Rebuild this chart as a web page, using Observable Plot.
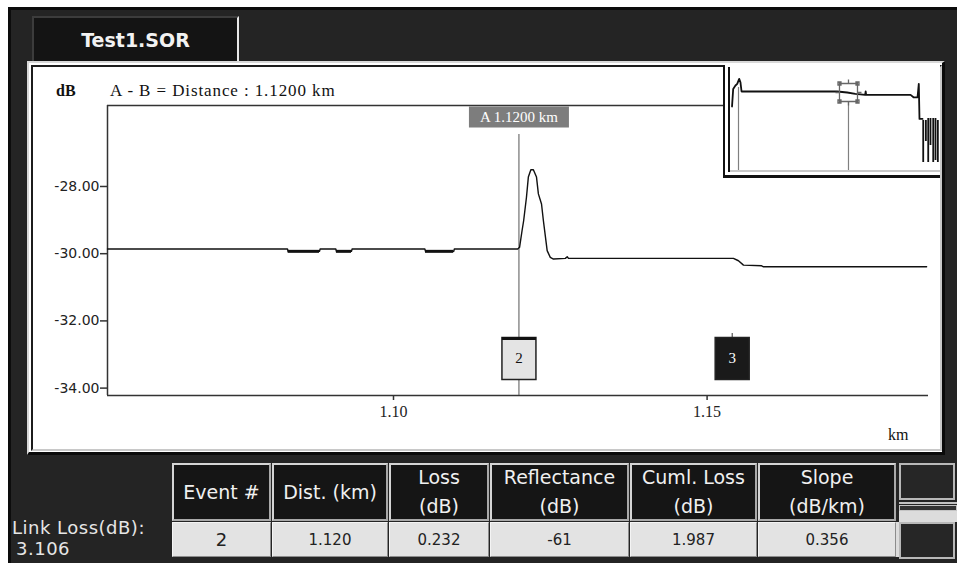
<!DOCTYPE html>
<html><head><meta charset="utf-8">
<script src="https://cdn.jsdelivr.net/npm/d3@7"></script>
<script src="https://cdn.jsdelivr.net/npm/@observablehq/plot@0.6"></script>
<style>
html,body{margin:0;padding:0}
body{width:957px;height:563px;overflow:hidden;background:#fff;position:relative;font-family:"DejaVu Sans",sans-serif}
.abs{position:absolute;box-sizing:border-box}
.hdr{background:#151515;border:2px solid #a9a9a9;border-top-color:#d4d4d4;border-left-color:#d4d4d4;color:#f0f0f0;font-size:19px;display:flex;flex-direction:column;justify-content:center;align-items:center;line-height:29px}
.val{background:#e3e3e3;border:1px solid #8c8c8c;border-top-color:#f4f4f4;border-left-color:#f4f4f4;color:#222;font-size:15px;display:flex;justify-content:center;align-items:center}
.btn{background:#262626;border:2px solid #b8b8b8}
</style></head><body>
<script>
// ---------- data ----------
const fileName = "Test1.SOR";
const cursorA = 1.12;
const cursorB = 0;
const xTicks = [1.10, 1.15];
const yTicks = [-28, -30, -32, -34];
const xDomain = [1.0544, 1.1853];
const yDomain = [-34.22, -25.59];

const traceKm = [1.0544, 1.0831, 1.0832, 1.0882, 1.0883, 1.0908, 1.0909, 1.0933, 1.0934, 1.1050, 1.1051, 1.1096, 1.1097,
  1.1198, 1.1201, 1.1205, 1.12075, 1.1212, 1.1215, 1.1219, 1.1223, 1.1228, 1.1231, 1.1236, 1.1239, 1.1245, 1.1250, 1.1255,
  1.1274, 1.1277, 1.1279, 1.1542, 1.1550, 1.1558, 1.1587, 1.1590, 1.1850];
const traceDb = [-29.86, -29.86, -29.93, -29.93, -29.86, -29.86, -29.93, -29.93, -29.86, -29.86, -29.93, -29.93, -29.86,
  -29.86, -29.81, -29.31, -29.02, -28.32, -27.72, -27.50, -27.50, -27.72, -28.22, -28.52, -29.02, -29.91, -30.11, -30.16,
  -30.14, -30.09, -30.14, -30.14, -30.21, -30.34, -30.36, -30.39, -30.39];
const dipStart = [1.0832, 1.0909, 1.1051];
const dipEnd = [1.0882, 1.0933, 1.1096];
const dipDb = [-29.93, -29.93, -29.93];

const eventNo = [2, 3];
const eventKm = [1.120, 1.154];
const selectedEvent = 2;

// overview (inset) trace
const overviewKm = [-0.066, -0.054, -0.031, -0.013, 0.007, 0.020, 0.031, 1.005, 1.107, 1.19, 1.29, 1.295, 1.30, 1.752, 1.782, 1.823, 1.836, 1.843, 1.874];
const overviewDb = [-37, -28.2, -26.5, -25.7, -23.2, -24.9, -29.5, -29.5, -30.0, -30.7, -31.2, -29.5, -31.2, -31.2, -32.4, -32.4, -25.7, -43.2, -43.2];
const overviewCursorDb = -30.0;
const noiseKm = [1.881, 1.908, 1.932, 1.955, 1.983, 2.006, 2.030];
const noiseTop = [-44, -44, -43, -43, -43, -43, -44];
const noiseBottom = [-65, -54.5, -65, -56.5, -65, -64, -65];

const linkLoss = "3.106";
const colHeaders = [["Event #"], ["Dist. (km)"], ["Loss", "(dB)"], ["Reflectance", "(dB)"], ["Cuml. Loss", "(dB)"], ["Slope", "(dB/km)"]];
const rowValues = ["2", "1.120", "0.232", "-61", "1.987", "0.356"];

// ---------- layout ----------
const colEdges = [172, 272, 389, 490, 630, 758, 897];
function el(tag, cls, style, html) {
  const e = document.createElement(tag);
  if (cls) e.className = cls;
  e.setAttribute("style", style);
  if (html !== undefined) e.innerHTML = html;
  document.body.appendChild(e);
  return e;
}
// frame
el("div", "abs", "left:8px;top:7px;width:949px;height:556px;background:#242424;border-left:3px solid #0c0c0c;border-top:3px solid #0c0c0c");
// tab
el("div", "abs", "left:32px;top:16px;width:207px;height:47px;background:#141414;border-top:2px solid #3c3c3c;border-left:2px solid #3c3c3c;border-right:2px solid #e8e8e8;color:#f2f2f2;font:bold 19px 'DejaVu Sans';display:flex;align-items:center;justify-content:center;padding-bottom:2px", fileName);
// panel
el("div", "abs", "left:27px;top:61px;width:918px;height:394px;background:#fff;border-top:2px solid #d8d8d8;border-left:2px solid #d8d8d8;border-right:3px solid #0a0a0a;border-bottom:3px solid #0a0a0a");
el("div", "abs", "left:31px;top:65px;width:911px;height:386px;background:#fff;border-top:2px solid #1c1c1c;border-left:2px solid #1c1c1c;border-right:2px solid #c8c8c8;border-bottom:2px solid #c8c8c8");
// panel texts
el("div", "abs", "left:56px;top:81px;font:bold 16px 'Liberation Serif';color:#111;line-height:20px", "dB");
el("div", "abs", "left:110px;top:81px;font:17px 'Liberation Serif';letter-spacing:0.9px;color:#111;line-height:20px;white-space:nowrap",
  `A - B = Distance : ${(cursorA - cursorB).toFixed(4)} km`);
el("div", "abs", "left:888px;top:425px;font:16px 'Liberation Serif';color:#111;line-height:20px", "km");

// ---------- main chart ----------
const trace = traceKm.map((km, i) => ({km, db: traceDb[i]}));
const dips = dipStart.map((a, i) => ({a, b: dipEnd[i], db: dipDb[i]}));
const events = eventNo.map((n, i) => ({n, km: eventKm[i], selected: n === selectedEvent}));
const boxSymbol = {draw(ctx) { ctx.moveTo(-17, -21); ctx.lineTo(17, -21); ctx.lineTo(17, 21); ctx.lineTo(-17, 21); ctx.closePath(); }};
const topEdge = {draw(ctx) { ctx.moveTo(-17, -20); ctx.lineTo(17, -20); }};
const labelSymbol = {draw(ctx) { ctx.moveTo(-50, -10.5); ctx.lineTo(50, -10.5); ctx.lineTo(50, 10.5); ctx.lineTo(-50, 10.5); ctx.closePath(); }};

const main = Plot.plot({
  width: 909, height: 383,
  marginLeft: 74, marginRight: 14, marginTop: 39, marginBottom: 54,
  style: {background: "transparent", color: "#222", fontFamily: "Liberation Serif", fontSize: "16px", overflow: "visible"},
  x: {domain: xDomain, label: null},
  y: {domain: yDomain, label: null},
  marks: [
    Plot.ruleY([yDomain[1]], {stroke: "#333", strokeWidth: 1.5}),
    Plot.ruleY([yDomain[0]], {stroke: "#333", strokeWidth: 1.5}),
    Plot.ruleX([xDomain[0]], {stroke: "#333", strokeWidth: 1.5}),
    Plot.axisY({ticks: yTicks, tickFormat: d => d.toFixed(2), label: null, tickSize: 7, tickPadding: 1, fontFamily: "DejaVu Sans", fontSize: 14, stroke: "#333", strokeWidth: 1.5}),
    Plot.axisX({ticks: xTicks, tickFormat: d => d.toFixed(2), label: null, tickSize: 5, tickPadding: 5, fontFamily: "Liberation Serif", fontSize: 16, stroke: "#333", strokeWidth: 1.5}),
    Plot.ruleX([cursorA], {x: d => d, insetTop: 29, stroke: "#555", strokeWidth: 1}),
    Plot.line(trace, {x: "km", y: "db", stroke: "#111", strokeWidth: 1.4}),
    Plot.ruleY(dips, {x1: "a", x2: "b", y: "db", stroke: "#111", strokeWidth: 3}),
    Plot.ruleX(events.filter(d => !d.selected), {x: "km", insetTop: 228, insetBottom: 58, stroke: "#333"}),
    Plot.dot(events, {x: "km", frameAnchor: "bottom", dy: -37, symbol: boxSymbol, fill: d => d.selected ? "#e4e4e4" : "#1a1a1a", stroke: "#222", strokeWidth: 1.5}),
    Plot.dot(events.filter(d => d.selected), {x: "km", frameAnchor: "bottom", dy: -37, symbol: topEdge, stroke: "#111", strokeWidth: 3}),
    Plot.text(events, {x: "km", frameAnchor: "bottom", lineAnchor: "middle", dy: -37, text: d => String(d.n), fill: d => d.selected ? "#111" : "#fff", fontSize: 15, fontFamily: "Liberation Serif"}),
    Plot.dot([cursorA], {x: d => d, frameAnchor: "top", dy: 11.5, symbol: labelSymbol, fill: "#7d7d7d", stroke: "none"}),
    Plot.text([cursorA], {x: d => d, frameAnchor: "top", lineAnchor: "middle", dy: 11.5, text: d => `A ${d.toFixed(4)} km`, fill: "#fff", fontSize: 15, fontFamily: "Liberation Serif", style: "letter-spacing:1px"})
  ]
});
const mainWrap = el("div", "abs", "left:33px;top:66px;width:909px;height:383px");
mainWrap.appendChild(main);

// ---------- inset ----------
el("div", "abs", "left:723px;top:65px;width:217px;height:113px;background:#fff;border-left:2px solid #111;border-bottom:3px solid #111");
el("div", "abs", "left:728px;top:67px;width:2px;height:105px;background:#111");
el("div", "abs", "left:730px;top:170px;width:210px;height:2px;background:#c8c8c8");
const overview = overviewKm.map((km, i) => ({km, db: overviewDb[i]}));
const noise = noiseKm.map((km, i) => ({km, top: noiseTop[i], bottom: noiseBottom[i]}));
const crossSymbol = {draw(ctx) {
  ctx.moveTo(-9, -9); ctx.lineTo(9, -9); ctx.lineTo(9, 9); ctx.lineTo(-9, 9); ctx.closePath();
  for (const [cx, cy] of [[-9, -9], [9, -9], [9, 9], [-9, 9]]) { ctx.moveTo(cx - 1.5, cy - 1.5); ctx.lineTo(cx + 1.5, cy - 1.5); ctx.lineTo(cx + 1.5, cy + 1.5); ctx.lineTo(cx - 1.5, cy + 1.5); ctx.closePath(); }
  ctx.moveTo(0, -13); ctx.lineTo(0, -9); ctx.moveTo(0, 9); ctx.lineTo(0, 13);
  ctx.moveTo(-13, 0); ctx.lineTo(-9, 0); ctx.moveTo(9, 0); ctx.lineTo(13, 0);
}};
const inset = Plot.plot({
  width: 209, height: 102,
  marginLeft: 0, marginRight: 0, marginTop: 0, marginBottom: 0,
  style: {background: "transparent", overflow: "hidden"},
  x: {domain: [-0.0713, 2.057], axis: null},
  y: {domain: [-69, -18], axis: null},
  marks: [
    Plot.ruleX([cursorB], {x: d => d, insetTop: 19, stroke: "#808080", strokeWidth: 1.2}),
    Plot.ruleX([cursorA], {x: d => d, insetTop: 34, stroke: "#808080", strokeWidth: 1.2}),
    Plot.line(overview, {x: "km", y: "db", stroke: "#111", strokeWidth: 1.8, clip: true}),
    Plot.ruleX(noise, {x: "km", y1: "top", y2: "bottom", stroke: "#111", strokeWidth: 1.8}),
    Plot.dot([cursorA], {x: d => d, y: () => overviewCursorDb, symbol: crossSymbol, stroke: "#666", strokeWidth: 1.3, fill: "none"})
  ]
});
const insetWrap = el("div", "abs", "left:731px;top:68px;width:209px;height:102px");
insetWrap.appendChild(inset);

// ---------- table ----------
el("div", "abs", "left:12px;top:517px;font-size:18px;letter-spacing:0.5px;color:#e6e6e6;line-height:22px;white-space:nowrap", "Link Loss(dB):");
el("div", "abs", "left:16px;top:538px;font-size:18px;letter-spacing:0.5px;color:#e6e6e6;line-height:22px", linkLoss);
colHeaders.forEach((lines, i) => {
  const l = colEdges[i], w = colEdges[i + 1] - colEdges[i] - 1;
  el("div", "abs hdr", `left:${l}px;top:463px;width:${w}px;height:58px`, lines.map(s => `<div>${s}</div>`).join(""));
  const isEvt = i === 0;
  el("div", "abs val", `left:${l}px;top:522px;width:${w}px;height:35px;${isEvt ? "font-size:18px;font-family:'DejaVu Sans';" : ""}`, rowValues[i]);
});
// right side buttons
el("div", "abs", "left:896px;top:522px;width:4px;height:35px;background:#dcdcdc");
el("div", "abs btn", "left:899px;top:463px;width:56px;height:37px");
el("div", "abs", "left:899px;top:502px;width:58px;height:2px;background:#c4c4c4");
el("div", "abs", "left:899px;top:505px;width:58px;height:6px;background:#333;border:1px solid #c4c4c4");
el("div", "abs", "left:899px;top:511px;width:58px;height:11px;background:#dcdcdc");
el("div", "abs btn", "left:899px;top:522px;width:56px;height:37px");
</script>
</body></html>
